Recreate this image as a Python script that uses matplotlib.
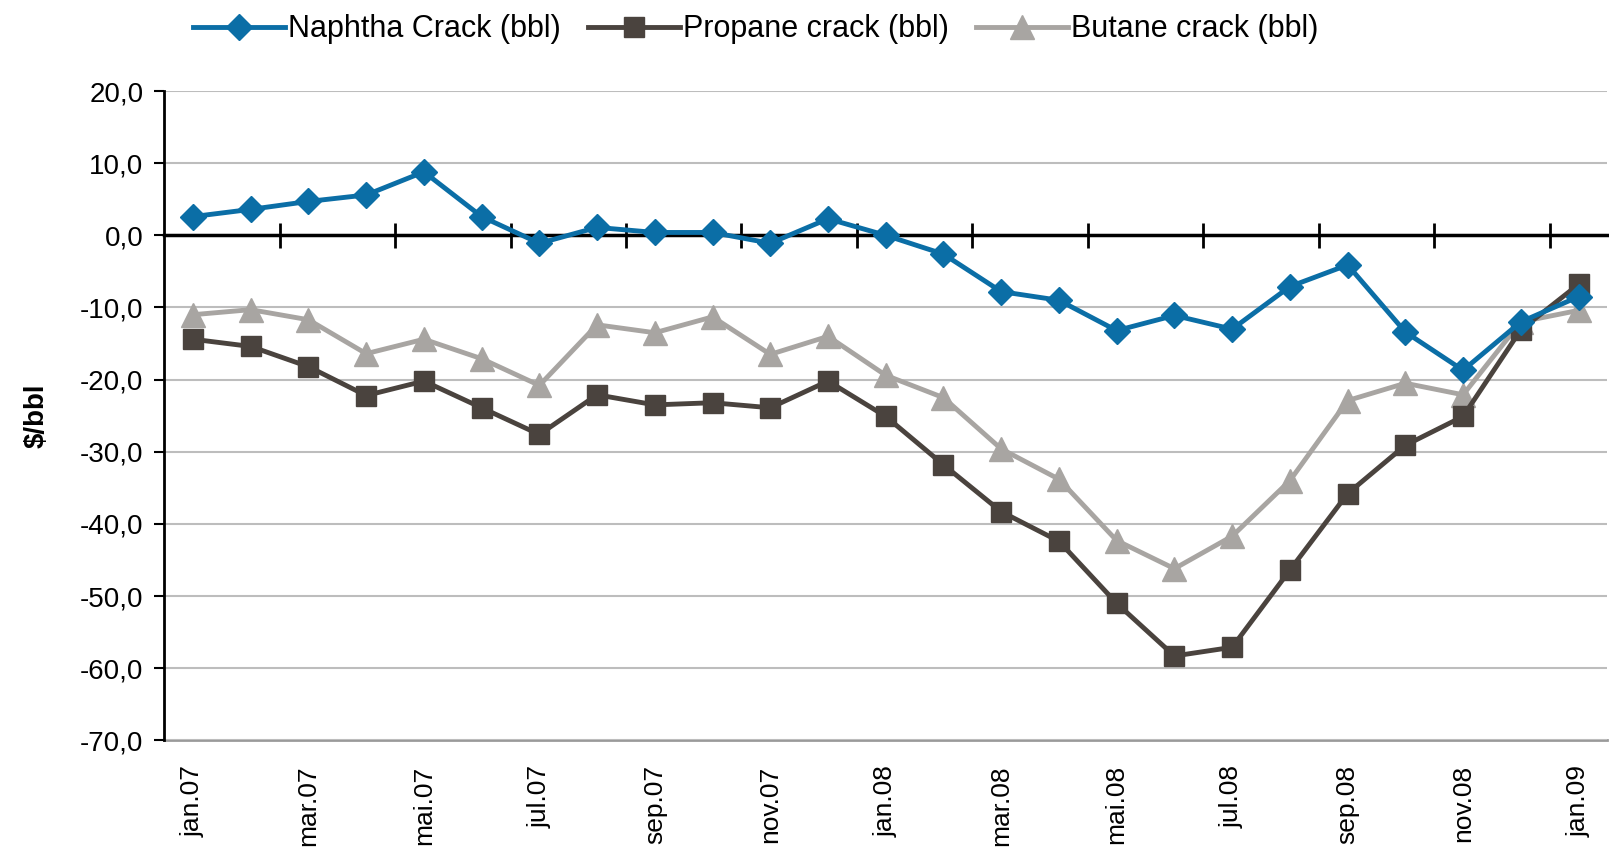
import numpy as np
import matplotlib.pyplot as plt

plt.rcParams['font.family'] = ['Liberation Sans', 'DejaVu Sans']

months = ["jan.07", "feb.07", "mar.07", "apr.07", "mai.07", "jun.07", "jul.07",
          "aug.07", "sep.07", "okt.07", "nov.07", "des.07",
          "jan.08", "feb.08", "mar.08", "apr.08", "mai.08", "jun.08", "jul.08",
          "aug.08", "sep.08", "okt.08", "nov.08", "des.08", "jan.09"]

naphtha = [2.6, 3.6, 4.7, 5.6, 8.8, 2.6, -1.1, 1.1, 0.4, 0.4, -1.1, 2.3,
           0.0, -2.6, -7.8, -9.0, -13.2, -11.1, -13.0, -7.1, -4.1, -13.4,
           -18.7, -12.0, -8.5]
propane = [-14.4, -15.4, -18.2, -22.2, -20.2, -23.9, -27.6, -22.1, -23.5,
           -23.2, -23.9, -20.2, -25.1, -31.8, -38.3, -42.4, -51.0, -58.3,
           -57.1, -46.4, -35.8, -29.1, -25.1, -13.1, -6.8]
butane = [-11.0, -10.3, -11.7, -16.4, -14.4, -17.1, -20.8, -12.4, -13.5,
          -11.3, -16.5, -14.0, -19.4, -22.5, -29.6, -33.8, -42.3, -46.2,
          -41.7, -34.0, -22.9, -20.5, -22.1, -12.0, -10.4]

yticks = np.arange(-70, 21, 10)

fig = plt.figure(figsize=(16.09, 8.51), dpi=100)
ax = fig.add_axes([0.102, 0.130, 0.897, 0.763])

x = np.arange(len(months))
ax.plot(x, naphtha, color='#0B6EA6', lw=3.5, marker='D', ms=13,
        label='Naphtha Crack (bbl)', zorder=5)
ax.plot(x, propane, color='#4A433E', lw=3.5, marker='s', ms=15,
        label='Propane crack (bbl)', zorder=4)
ax.plot(x, butane, color='#A8A5A2', lw=3.5, marker='^', ms=17,
        label='Butane crack (bbl)', zorder=3)

ax.set_xlim(-0.5, len(months) - 0.5)
ax.set_ylim(-70, 20)
ax.set_yticks(yticks)
ax.set_yticklabels([f"{v:.1f}".replace('.', ',') for v in yticks], fontsize=20)
ax.yaxis.grid(True, color='#BDBDBD', lw=1.5)
ax.set_axisbelow(True)
ax.tick_params(axis='y', length=7, width=1.5, direction='out', pad=8)
ax.set_ylabel('$/bbl', fontsize=20, fontweight='bold', labelpad=22)

for s in ['top', 'right']:
    ax.spines[s].set_visible(False)
ax.spines['left'].set_linewidth(2)

# category axis crosses at zero, ticks between every second month
ax.spines['bottom'].set_position(('data', 0))
ax.spines['bottom'].set_linewidth(2.5)
ax.spines['bottom'].set_zorder(2)
ax.set_xticks(np.arange(1.5, len(months) - 1, 2))
ax.set_xticklabels([])
ax.tick_params(axis='x', direction='inout', length=18, width=2)

# month labels sit below the plot
sec = ax.secondary_xaxis('bottom')
sec.spines['bottom'].set_color('#9A9A9A')
sec.spines['bottom'].set_linewidth(2)
sec.set_xticks(x[::2])
sec.set_xticklabels(months[::2], rotation=90, fontsize=19)
sec.tick_params(axis='x', length=0, pad=18)

ax.legend(loc='center left', bbox_to_anchor=(0.02, 1.095), ncol=3,
          frameon=False, fontsize=22, handlelength=3.0, handletextpad=0.1,
          columnspacing=0.9, borderaxespad=0, borderpad=0)

fig.savefig('out.png', dpi=100)
